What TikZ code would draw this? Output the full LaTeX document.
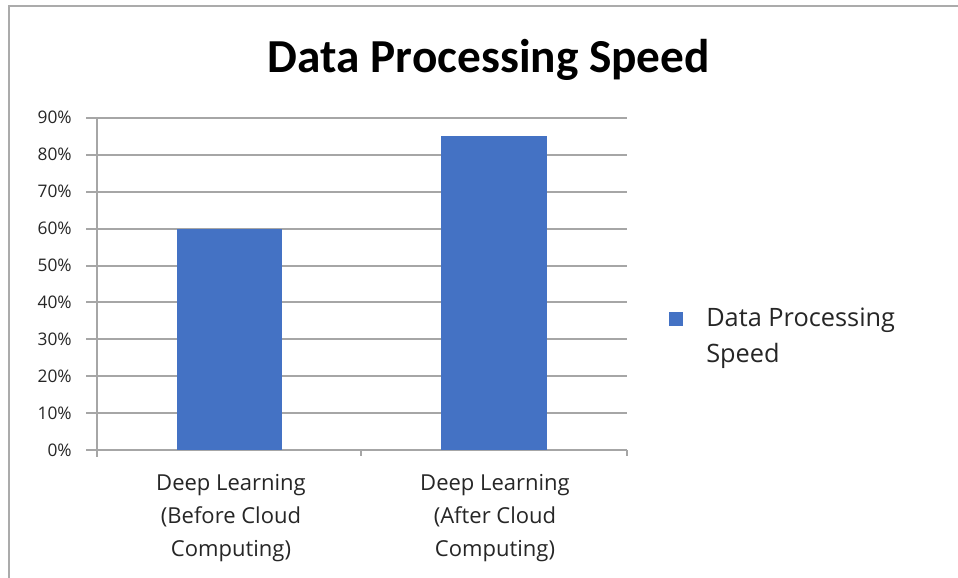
\documentclass[tikz,border=0pt]{standalone}
\usepackage{fontspec}
\setmainfont{Open Sans}
\newfontfamily\titlefont{Carlito}
\definecolor{barblue}{HTML}{4472C4}
\definecolor{gridgray}{HTML}{A6A6A6}
\definecolor{framegray}{HTML}{ABABAB}
\definecolor{txt}{HTML}{262626}
\begin{document}
\begin{tikzpicture}[x=0.75pt,y=-0.75pt,
  gridline/.style={draw=gridgray,line width=1.5pt},
  ylab/.style={anchor=base east,inner sep=0pt,font=\fontsize{13}{16}\selectfont,text=txt},
  catlab/.style={anchor=north,inner sep=0pt,align=center,font=\fontsize{16.5}{24.75}\selectfont,text=txt},
  bar/.style={fill=barblue,draw=none}]
\useasboundingbox (0,0) rectangle (958,578);
\fill[white] (0,0) rectangle (958,578);
% frame
\draw[framegray,line width=1.9pt] (9,578) -- (9,6) -- (958,6);
% title
\node[anchor=base,inner sep=0pt,font=\titlefont\bfseries\fontsize{35.5}{40}\selectfont] (title) at (489,72) {Data Processing Speed};
% gridlines and y labels
\foreach \v in {0,10,...,90}{
  \pgfmathsetmacro{\yy}{450-\v*3.6889}
  \draw[gridline] (86,\yy) -- (626.5,\yy);
  \node[ylab] (y\v) at (72,\yy+6) {\v\%};
}
% vertical axis
\draw[gridline] (96.5,118.2) -- (96.5,457);
\draw[gridline] (361,450) -- (361,456);
\draw[gridline] (626.5,450) -- (626.5,456);
% bars
\fill[bar] (176.7,450) rectangle (282,228.7);
\fill[bar] (441,450) rectangle (547,136.4);
% category labels
\node[catlab] (c1) at (231,474) {Deep Learning\\(Before Cloud\\Computing)};
\node[catlab] (c2) at (495,474) {Deep Learning\\(After Cloud\\Computing)};
% legend
\fill[barblue] (669,312) rectangle (683,325.5);
\node[anchor=north west,inner sep=0pt,align=left,font=\fontsize{19}{27}\selectfont,text=txt] (leg) at (706,308) {Data Processing\\Speed};
\end{tikzpicture}
\end{document}
